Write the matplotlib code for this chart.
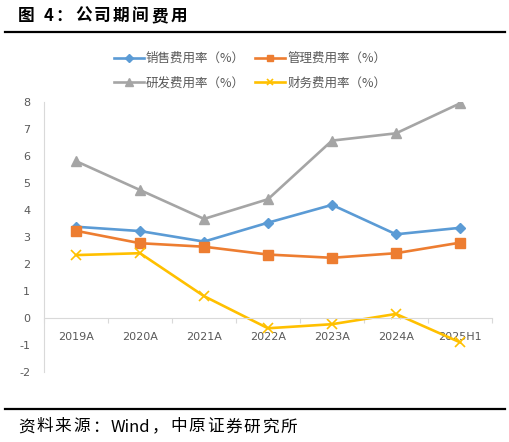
import numpy as np
import matplotlib.pyplot as plt
from matplotlib.lines import Line2D

plt.rcParams['font.family'] = ['Noto Sans CJK SC', 'DejaVu Sans']
plt.rcParams['axes.unicode_minus'] = False

years = ['2019A', '2020A', '2021A', '2022A', '2023A', '2024A', '2025H1']
sales = [3.38, 3.22, 2.83, 3.53, 4.19, 3.10, 3.34]
admin = [3.23, 2.77, 2.64, 2.35, 2.23, 2.40, 2.79]
rnd = [5.81, 4.74, 3.67, 4.40, 6.57, 6.84, 7.95]
fin = [2.33, 2.40, 0.81, -0.38, -0.23, 0.15, -0.90]

W, H = 510, 442
fig = plt.figure(figsize=(W / 100, H / 100), dpi=100)
ax = fig.add_axes([44 / W, 1 - 372 / H, 448 / W, 270 / H])
renderer = fig.canvas.get_renderer()


def spaced_text(x0, y0, parts, gap, **kw):
    # draw text piece by piece with extra letter spacing (pixels)
    xp = x0
    for ch in parts:
        t = fig.text(xp / W, 1 - y0 / H, ch, va='center', ha='left', **kw)
        xp += t.get_window_extent(renderer).width + gap


x = np.arange(len(years))
lw = 1.9
l1, = ax.plot(x, sales, color='#5B9BD5', lw=lw, marker='D', ms=5.5, label='销售费用率（%）')
l2, = ax.plot(x, admin, color='#ED7D31', lw=lw, marker='s', ms=7, label='管理费用率（%）')
l3, = ax.plot(x, rnd, color='#A5A5A5', lw=lw, marker='^', ms=7, label='研发费用率（%）')
l4, = ax.plot(x, fin, color='#FFC000', lw=lw, marker='x', ms=6.5, mew=1.2, label='财务费用率（%）')

ax.set_xlim(-0.5, len(years) - 0.5)
ax.set_ylim(-2, 8)
ax.set_yticks(range(-2, 9))
ax.tick_params(axis='y', length=0, pad=10, labelsize=8, labelcolor='#595959')
for t in ax.get_yticklabels():
    t.set_family('DejaVu Sans')

ax.spines['bottom'].set_position(('data', 0))
for s in ['top', 'right']:
    ax.spines[s].set_visible(False)
ax.spines['left'].set_color('#D9D9D9')
ax.spines['bottom'].set_color('#D9D9D9')
ax.set_xticks(x)
ax.set_xticklabels(years, family='DejaVu Sans', fontsize=8, color='#595959')
ax.set_xticks(np.arange(-0.5, len(years), 1), minor=True)
ax.tick_params(axis='x', which='major', length=0, pad=10)
ax.tick_params(axis='x', which='minor', length=3.5, color='#D9D9D9', width=0.8)

leg = fig.legend(handles=[l1, l3, l2, l4], ncol=2, loc='upper center',
                 bbox_to_anchor=(250 / W, 1 - 46 / H), frameon=False,
                 fontsize=9, labelcolor='#595959', handlelength=2.4,
                 handletextpad=0.2, columnspacing=0.8, labelspacing=0.9,
                 borderpad=0)
for h, ms in zip(leg.legend_handles, [4, 5.5, 4.5, 4.5]):
    h.set_markersize(ms)

spaced_text(18, 16, list('图 4：公司期间费用'), 2.5, fontsize=12, fontweight='bold')
fig.add_artist(Line2D([5 / W, 505 / W], [1 - 32 / H] * 2, color='black', lw=1.6))
fig.add_artist(Line2D([5 / W, 505 / W], [1 - 409 / H] * 2, color='black', lw=1.6))
spaced_text(18, 427, list('资料来源：') + ['Wind'] + list('，中原证券研究所'), 1.8,
            fontsize=12)

fig.savefig('out.png', dpi=100)
